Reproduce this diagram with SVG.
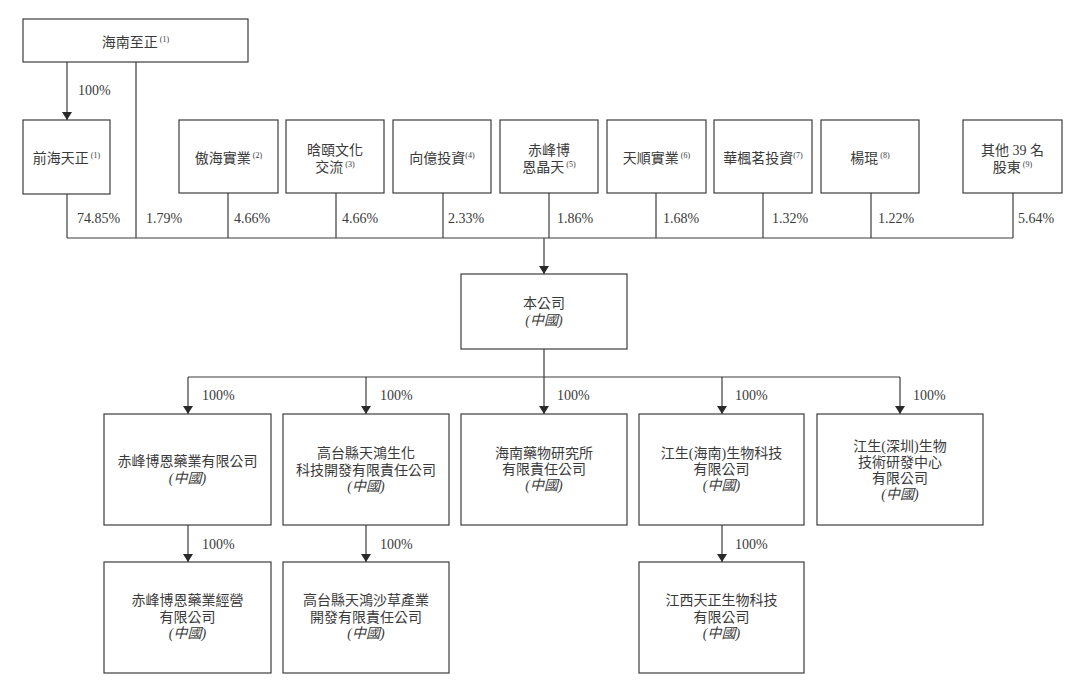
<svg xmlns="http://www.w3.org/2000/svg" width="1080" height="682" viewBox="0 0 1080 682">
<style>
.box{fill:#fff;stroke:#3c3c3c;stroke-width:1.2}
.t{font-family:"Liberation Serif","Noto Sans CJK TC",serif;font-size:14px;fill:#3a3a3a;text-anchor:middle}
.p{font-family:"Liberation Serif",serif;font-size:14px;fill:#3a3a3a}
.i{font-style:italic}
.s{font-size:8px}
.ln{stroke:#3c3c3c;stroke-width:1.2;fill:none}
.ar{stroke:#3c3c3c;stroke-width:1.2;fill:none;marker-end:url(#ah)}
</style>
<defs>
<marker id="ah" viewBox="0 0 8 10" refX="8" refY="5" markerWidth="8" markerHeight="10" markerUnits="userSpaceOnUse" orient="auto">
<path d="M0,0 L8,5 L0,10 z" fill="#2a2a2a"/>
</marker>
</defs>
<rect width="1080" height="682" fill="#fff"/>
<g id="connectors">
<line class="ar" x1="67" y1="62" x2="67" y2="120"/>
<line class="ln" x1="136" y1="62" x2="136" y2="238"/>
<line class="ln" x1="67" y1="194" x2="67" y2="238"/>
<line class="ln" x1="228" y1="193" x2="228" y2="238"/>
<line class="ln" x1="336" y1="193" x2="336" y2="238"/>
<line class="ln" x1="443" y1="193" x2="443" y2="238"/>
<line class="ln" x1="549" y1="193" x2="549" y2="238"/>
<line class="ln" x1="656" y1="193" x2="656" y2="238"/>
<line class="ln" x1="763" y1="193" x2="763" y2="238"/>
<line class="ln" x1="871" y1="193" x2="871" y2="238"/>
<line class="ln" x1="1013" y1="193" x2="1013" y2="238"/>
<line class="ln" x1="67" y1="238" x2="1013" y2="238"/>
<line class="ar" x1="544" y1="238" x2="544" y2="274"/>
<line class="ln" x1="544" y1="349" x2="544" y2="377"/>
<line class="ln" x1="188" y1="377" x2="900" y2="377"/>
<line class="ar" x1="188" y1="377" x2="188" y2="414"/>
<line class="ar" x1="366" y1="377" x2="366" y2="414"/>
<line class="ar" x1="544" y1="377" x2="544" y2="414"/>
<line class="ar" x1="722" y1="377" x2="722" y2="414"/>
<line class="ar" x1="900" y1="377" x2="900" y2="414"/>
<line class="ar" x1="188" y1="525" x2="188" y2="562"/>
<line class="ar" x1="366" y1="525" x2="366" y2="562"/>
<line class="ar" x1="722" y1="525" x2="722" y2="562"/>
<text class="p" x="78" y="95">100%</text>
<text class="p" x="77" y="223">74.85%</text>
<text class="p" x="146" y="223">1.79%</text>
<text class="p" x="234" y="223">4.66%</text>
<text class="p" x="342" y="223">4.66%</text>
<text class="p" x="448" y="223">2.33%</text>
<text class="p" x="557" y="223">1.86%</text>
<text class="p" x="663" y="223">1.68%</text>
<text class="p" x="772" y="223">1.32%</text>
<text class="p" x="878" y="223">1.22%</text>
<text class="p" x="1018" y="223">5.64%</text>
<text class="p" x="202" y="400">100%</text>
<text class="p" x="380" y="400">100%</text>
<text class="p" x="557" y="400">100%</text>
<text class="p" x="735" y="400">100%</text>
<text class="p" x="913" y="400">100%</text>
<text class="p" x="202" y="549">100%</text>
<text class="p" x="380" y="549">100%</text>
<text class="p" x="735" y="549">100%</text>
</g>
<g id="n_hainanzhizheng">
<rect class="box" x="23" y="19" width="225" height="43"/>
<text class="t" x="135.5" y="47">海南至正<tspan class="s" dy="-5"> (1)</tspan></text>
</g>
<g id="n_qianhai">
<rect class="box" x="23" y="120" width="87" height="74"/>
<text class="t" x="66.5" y="163">前海天正<tspan class="s" dy="-5"> (1)</tspan></text>
</g>
<g id="n_aohai">
<rect class="box" x="179" y="120" width="99" height="73"/>
<text class="t" x="228.5" y="163">傲海實業<tspan class="s" dy="-5"> (2)</tspan></text>
</g>
<g id="n_hanyi">
<rect class="box" x="286" y="120" width="98" height="73"/>
<text class="t" x="335" y="155">晗頤文化</text>
<text class="t" x="335" y="172">交流<tspan class="s" dy="-5"> (3)</tspan></text>
</g>
<g id="n_xiangyi">
<rect class="box" x="393" y="120" width="98" height="73"/>
<text class="t" x="442" y="163">向億投資<tspan class="s" dy="-5">(4)</tspan></text>
</g>
<g id="n_chifengbo">
<rect class="box" x="500" y="120" width="98" height="73"/>
<text class="t" x="549" y="155">赤峰博</text>
<text class="t" x="549" y="172">恩晶天<tspan class="s" dy="-5"> (5)</tspan></text>
</g>
<g id="n_tianshun">
<rect class="box" x="607" y="120" width="99" height="73"/>
<text class="t" x="656.5" y="163">天順實業<tspan class="s" dy="-5"> (6)</tspan></text>
</g>
<g id="n_huafeng">
<rect class="box" x="714" y="120" width="98" height="73"/>
<text class="t" x="763" y="163">華楓茗投資<tspan class="s" dy="-5">(7)</tspan></text>
</g>
<g id="n_yangkun">
<rect class="box" x="821" y="120" width="98" height="73"/>
<text class="t" x="870" y="163">楊琨<tspan class="s" dy="-5"> (8)</tspan></text>
</g>
<g id="n_others">
<rect class="box" x="963" y="120" width="99" height="73"/>
<text class="t" x="1012.5" y="155">其他 39 名</text>
<text class="t" x="1012.5" y="172">股東<tspan class="s" dy="-5"> (9)</tspan></text>
</g>
<g id="n_company">
<rect class="box" x="461" y="274" width="166" height="75"/>
<text class="t" x="544" y="308">本公司</text>
<text class="t i" x="544" y="325">(中國)</text>
</g>
<g id="n_sub1">
<rect class="box" x="104" y="414" width="167" height="111"/>
<text class="t" x="187.5" y="466">赤峰博恩藥業有限公司</text>
<text class="t i" x="187.5" y="483">(中國)</text>
</g>
<g id="n_sub2">
<rect class="box" x="283" y="414" width="166" height="111"/>
<text class="t" x="366" y="458">高台縣天鴻生化</text>
<text class="t" x="366" y="474.5">科技開發有限責任公司</text>
<text class="t i" x="366" y="491">(中國)</text>
</g>
<g id="n_sub3">
<rect class="box" x="461" y="414" width="166" height="111"/>
<text class="t" x="544" y="458">海南藥物研究所</text>
<text class="t" x="544" y="474">有限責任公司</text>
<text class="t i" x="544" y="490">(中國)</text>
</g>
<g id="n_sub4">
<rect class="box" x="639" y="414" width="165" height="111"/>
<text class="t" x="721.5" y="458">江生(海南)生物科技</text>
<text class="t" x="721.5" y="474">有限公司</text>
<text class="t i" x="721.5" y="490">(中國)</text>
</g>
<g id="n_sub5">
<rect class="box" x="817" y="414" width="166" height="111"/>
<text class="t" x="900" y="451">江生(深圳)生物</text>
<text class="t" x="900" y="467">技術研發中心</text>
<text class="t" x="900" y="483">有限公司</text>
<text class="t i" x="900" y="499">(中國)</text>
</g>
<g id="n_sub11">
<rect class="box" x="104" y="562" width="167" height="111"/>
<text class="t" x="187.5" y="605">赤峰博恩藥業經營</text>
<text class="t" x="187.5" y="622">有限公司</text>
<text class="t i" x="187.5" y="638">(中國)</text>
</g>
<g id="n_sub21">
<rect class="box" x="283" y="562" width="166" height="111"/>
<text class="t" x="366" y="605">高台縣天鴻沙草產業</text>
<text class="t" x="366" y="622">開發有限責任公司</text>
<text class="t i" x="366" y="638">(中國)</text>
</g>
<g id="n_sub41">
<rect class="box" x="639" y="562" width="165" height="111"/>
<text class="t" x="721.5" y="605">江西天正生物科技</text>
<text class="t" x="721.5" y="622">有限公司</text>
<text class="t i" x="721.5" y="638">(中國)</text>
</g>
</svg>
